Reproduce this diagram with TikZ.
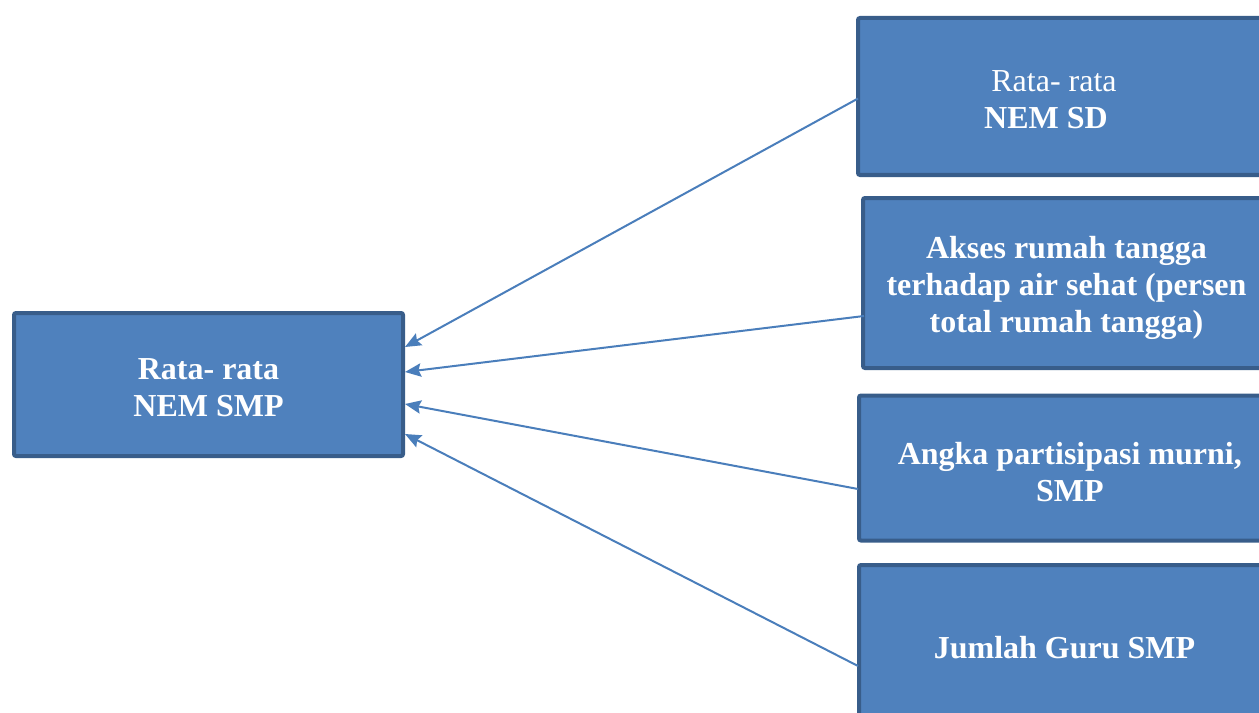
\documentclass[tikz,border=0pt]{standalone}
\usepackage{fontspec}
\setmainfont{Liberation Serif}
\usetikzlibrary{arrows.meta,calc}
\definecolor{boxfill}{HTML}{4F81BD}
\definecolor{boxline}{HTML}{385D8A}
\definecolor{arrline}{HTML}{4A7EBB}
\begin{document}
\begin{tikzpicture}[x=0.75pt,y=-0.75pt,
  bluebox/.style={draw=boxline,fill=boxfill,line width=3pt,rounded corners=1.5pt,
    inner sep=0pt},
  boxtext/.style={inner sep=0pt,align=center,text=white,
    font=\fontsize{24}{27.8}\selectfont\bfseries},
  conn/.style={draw=arrline,line width=1.5pt,
    -{Stealth[length=12pt,width=10pt,inset=1.8pt]}}]
\useasboundingbox (0,0) rectangle (1259,713);
\clip (0,0) rectangle (1259,713);
% left box
\node[bluebox,minimum width=389*0.75pt,minimum height=143*0.75pt] (smp) at (208.5,384.5) {};
\node[boxtext] (smptext) at ($(smp)+(0,3.5)$) {Rata- rata\\NEM SMP};
% right boxes
\node[bluebox,minimum width=412*0.75pt,minimum height=157*0.75pt] (sd) at (1064,96.5) {};
\node[boxtext] (sdtext) at ($(sd)+(0,3)$)
  {\mdseries Rata- rata\hspace*{15pt}\\NEM SD\hspace*{27pt}};
\node[bluebox,minimum width=407*0.75pt,minimum height=170*0.75pt] (air) at (1066.5,283) {};
\node[boxtext] (airtext) at ($(air)+(0,5)$)
  {Akses rumah tangga\\terhadap air sehat (persen\\total rumah tangga)};
\node[bluebox,minimum width=411*0.75pt,minimum height=145*0.75pt] (apm) at (1064.5,468) {};
\node[boxtext] (apmtext) at ($(apm)+(0,4)$)
  {\hspace*{8pt}Angka partisipasi murni,\\\hspace*{8pt}SMP};
\node[bluebox,minimum width=411*0.75pt,minimum height=165*0.75pt] (guru) at (1064.5,647.5) {};
\node[boxtext] (gurutext) at ($(guru)+(0,0)$) {Jumlah Guru SMP};
% connectors
\draw[conn] ($(sd.west)+(2,2)$) -- ($(smp.east)+(0,-37.5)$);
\draw[conn] ($(air.west)+(3,33)$) -- ($(smp.east)+(0,-12.5)$);
\draw[conn] ($(apm.west)+(1,21)$) -- ($(smp.east)+(0,19.5)$);
\draw[conn] ($(guru.west)+(1,18.5)$) -- ($(smp.east)+(0,49.5)$);
\end{tikzpicture}
\end{document}
